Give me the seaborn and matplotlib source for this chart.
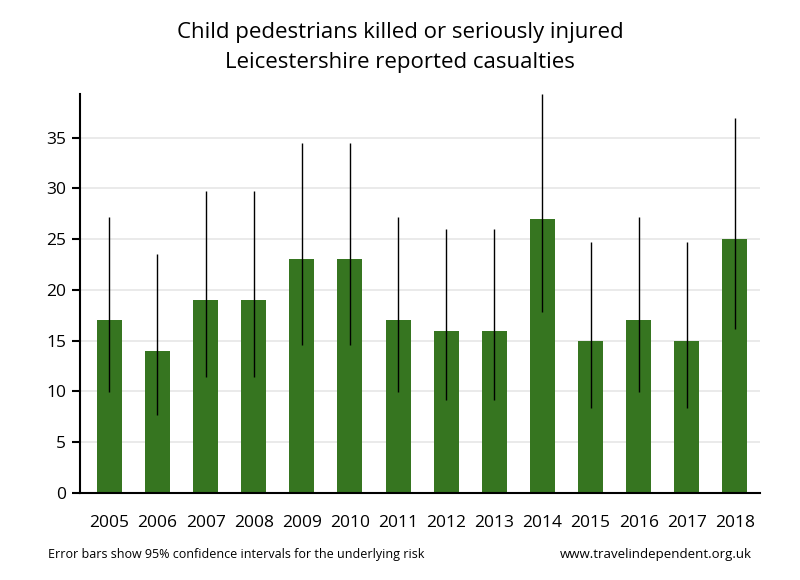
import numpy as np
import pandas as pd
import seaborn as sns
import matplotlib.pyplot as plt

years = ['2005', '2006', '2007', '2008', '2009', '2010', '2011', '2012', '2013', '2014', '2015', '2016', '2017', '2018']
casualties = [17, 14, 19, 19, 23, 23, 17, 16, 16, 27, 15, 17, 15, 25]
ci_low = [9.9, 7.65, 11.4, 11.4, 14.6, 14.6, 9.9, 9.15, 9.15, 17.8, 8.4, 9.9, 8.4, 16.2]
ci_high = [27.2, 23.5, 29.7, 29.7, 34.5, 34.5, 27.2, 26.0, 26.0, 39.3, 24.7, 27.2, 24.7, 36.9]

df = pd.DataFrame({'year': years, 'ksi': casualties, 'lo': ci_low, 'hi': ci_high})

sns.set_style('white')
plt.rcParams['font.family'] = ['Open Sans', 'DejaVu Sans']
plt.rcParams['text.color'] = 'black'
plt.rcParams['xtick.color'] = 'black'
plt.rcParams['ytick.color'] = 'black'

fig = plt.figure(figsize=(8, 5.8), dpi=100)
ax = fig.add_axes([0.1, 0.15, 0.85, 0.688])

sns.barplot(data=df, x='year', y='ksi', color='#367520', saturation=1, width=0.52,
            linewidth=0, ax=ax, zorder=2)
ax.vlines(np.arange(len(df)), df.lo, df.hi, color='black', linewidth=1, zorder=3)

ax.set_xlim(-0.61, 13.52)
ax.set_ylim(0, 39.3)
ax.set_yticks([0, 5, 10, 15, 20, 25, 30, 35])
ax.yaxis.grid(True, color='#e6e6e6', linewidth=1.2, zorder=0)
ax.set_axisbelow(True)
ax.set_xlabel('')
ax.set_ylabel('')
sns.despine(ax=ax, top=True, right=True)
for s in ['left', 'bottom']:
    ax.spines[s].set_color('black')
    ax.spines[s].set_linewidth(1.5)
ax.tick_params(axis='y', left=True, length=6, width=1.5, labelsize=12.5, pad=4)
ax.tick_params(axis='x', bottom=False, labelsize=12.5, pad=12)

fig.suptitle('Child pedestrians killed or seriously injured\nLeicestershire reported casualties',
             fontsize=16, y=0.962, linespacing=1.55)
fig.text(0.06, 0.038, 'Error bars show 95% confidence intervals for the underlying risk', fontsize=9, ha='left')
fig.text(0.94, 0.038, 'www.travelindependent.org.uk', fontsize=9.5, ha='right')

fig.savefig('out.png', dpi=100)
